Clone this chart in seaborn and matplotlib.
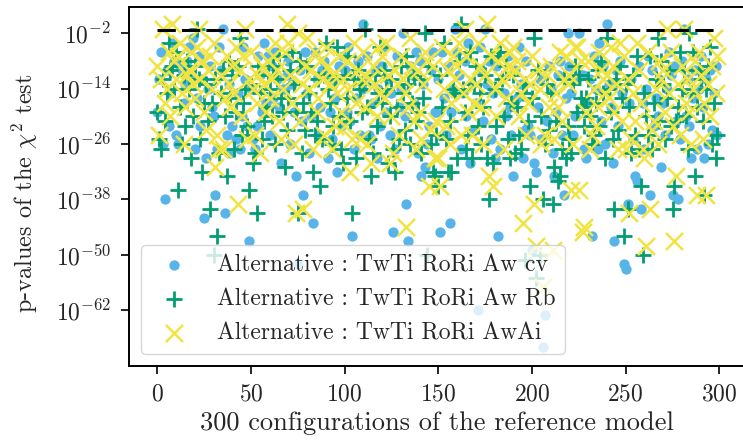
import numpy as np
import seaborn as sns
import matplotlib.pyplot as plt
from matplotlib.ticker import FixedLocator, NullLocator

# log10 of the chi2 p-values (one value per configuration)
log_p_cv = [
    -19, -12, -6, -26, -38, -10, -22, -15, -4, -8,
    -24, -26, -9, -10, -17, -13, -8, -5, -11, -3,
    -27, -16, -7, -22, -12, -42, -29, -14, -9, -18,
    -20, -37, -27, -5, -10, -1, -41, -24, -13, -28,
    -22, -9, -25, -15, -27, -20, -5, -12, -22, -47,
    -14, -25, -27, -22, -7, -11, -19, -4, -17, -7,
    -24, -9, -16, -6, -12, -18, -30, -14, -14, -11,
    -8, -26, -13, -19, -33, -52, -10, -21, -37, -6,
    -15, -28, -20, -43, -6, -12, -24, -18, -10, -8,
    -11, -29, -19, -25, -13, -16, -32, -9, -22, -7,
    -10, -19, -5, -21, -46, -27, -16, -8, -24, -14,
    0, -12, -7, -24, -25, -17, -10, -29, -14, -22,
    -9, -5, -19, -12, -24, -15, -45, -27, -7, -18,
    -14, -2, -20, -39, -47, -9, -11, -17, -6, -28,
    -8, -33, -13, -31, -26, -22, -10, -6, -19, -19,
    -12, -45, -6, -16, -24, -9, -43, -19, -14, -1,
    -6, -11, -27, -15, -8, -20, -4, -30, -13, -23,
    -17, -62, -5, -10, -21, -1, -13, -8, -25, -15,
    -29, -9, -46, -27, -12, -15, -20, -7, -18, -24,
    -33, -10, -16, -5, -13, -29, -23, -8, -22, -24,
    -49, -30, -32, -18, -12, -25, -70, -63, -21, -9,
    -14, -28, -33, -19, -11, -8, -24, -37, -16, -2,
    -9, -15, -24, -20, -12, -2, -11, -11, -27, -29,
    -17, -12, -46, -7, -14, -27, -4, -21, -9, -26,
    0, -13, -18, -30, -47, -10, -22, -8, -15, -52,
    -53, -39, -17, -12, -25, -33, -34, -9, -40, -17,
    -27, -14, -7, -37, -10, -22, -16, -20, -12, -31,
    -17, -24, -14, -6, -11, -37, -9, -21, -38, -25,
    -8, -1, -20, -12, -22, -29, -16, -10, -27, -14,
    -7, -18, -29, -12, -26, -10, -23, -15, -9, -24,
]

log_p_rb = [
    -19, -25, -27, -12, -21, -15, -4, -10, -9, -14,
    -6, -36, -18, -26, -11, -22, -8, -14, -29, -20,
    -9, -1, -12, -25, -32, -17, -13, -21, -40, -17,
    -50, -12, -46, -28, -15, -10, -20, -33, -8, -16,
    -11, -27, -19, -9, -3, -24, -17, -14, -22, -36,
    -13, -30, -28, -41, -9, -15, -25, -21, -18, -11,
    -14, -20, -9, -26, -12, -7, -16, -19, -31, -23,
    -16, -10, -6, -13, -19, -41, -8, -28, -17, -23,
    -9, -15, -19, -32, -24, -21, -12, -35, -25, -11,
    -4, -14, -17, -26, -22, -12, -5, -20, -27, -30,
    -11, -16, -7, -21, -41, -12, -29, -10, -14, -19,
    -13, -1, -18, -25, -33, -28, -11, -22, -15, -5,
    -17, -10, -14, -30, -20, -12, -27, -32, -18, -25,
    -9, -15, -23, -7, -13, -26, -17, -11, -21, -19,
    -12, -28, -16, -2, -50, -9, -26, -32, -33, -24,
    -35, -11, -18, -4, -25, -32, -21, -32, -14, -15,
    -29, -8, 0, -14, -19, -27, -24, -6, -29, -13,
    -9, -22, -15, -26, -18, -11, -29, -38, -7, -30,
    -14, -22, -6, -6, -12, -20, -9, -25, -29, -17,
    -11, -28, -18, -24, -27, -15, -51, -13, -21, -35,
    -16, -3, -55, -10, -50, -20, -38, -26, -13, -23,
    -15, -39, -31, -21, -34, -33, -27, -12, -29, -22,
    -25, -28, -13, -9, -19, -11, -16, -18, -22, -16,
    -12, -20, -26, -24, -17, -10, -22, -8, -15, -29,
    -3, -14, -19, -25, -40, -12, -23, -9, -16, -46,
    -13, -40, -18, -28, -11, -24, -7, -27, -35, -50,
    -15, -20, -24, -7, -27, -17, -12, -3, -21, -8,
    -13, -25, -16, -10, -22, -40, -35, -21, -18, -6,
    -14, -10, -20, -27, -2, -15, -6, -33, -18, -10,
    -12, -21, -37, -14, -9, -5, -26, -17, -29, -24,
]

log_p_ai = [
    -9, -24, -12, -1, -17, -14, -6, -20, 0, -8,
    -12, -7, -4, -15, -26, -18, -11, -10, -6, -13,
    -16, -5, -1, -12, -8, -19, -23, -10, -7, -14,
    -4, -31, -24, -27, -11, -27, -16, -7, -13, -18,
    -9, -15, -5, -39, -10, -20, -7, -1, -25, -12,
    -6, -14, -24, -17, -11, -28, -9, -13, -19, -8,
    -16, -12, -7, -4, -10, -21, -25, -14, -6, 0,
    -4, -11, -17, -26, -41, -2, -21, -13, -40, -9,
    -3, -14, -10, -27, -6, -19, -16, -8, -12, -24,
    -5, -9, -13, -27, -11, -22, -15, -7, -19, -12,
    -22, -8, -14, -32, -25, -4, -17, -10, -25, -12,
    -6, -18, -26, -12, -30, -9, -13, -20, -5, -15,
    -7, -16, -4, -11, -30, -20, -28, -10, -13, -24,
    -7, -12, -15, -44, -18, -3, -9, -21, -27, -10,
    -19, -25, -13, -6, -8, -35, -23, -9, -29, -21,
    -29, -35, -5, -14, -22, -10, -26, -17, -7, -12,
    -9, -4, -24, -15, -1, -7, -19, -12, -24, -17,
    -13, -4, -9, -18, -26, -11, 0, -33, -7, -35,
    -14, -20, -8, -4, -12, -27, -16, -9, -6, -11,
    -5, -10, -8, -20, -15, -43, -12, -24, -17, -13,
    -7, -39, -48, -10, -14, -26, -57, -24, -11, -18,
    -9, -49, -25, -15, -18, -6, -21, -12, -7, -13,
    -11, -36, -26, -5, -5, -36, -8, -45, -44, -19,
    -8, -27, -24, -14, -22, -18, -6, -10, -12, -15,
    -11, -16, -5, -9, -19, -13, -27, -4, -21, -7,
    -27, -12, -41, -25, -15, -21, -4, -10, -17, -27,
    -29, -48, -6, -40, -23, -21, -14, -26, -8, -12,
    -10, -19, -1, -15, -6, -22, -47, -33, -13, -24,
    -9, -1, -17, -12, -19, -26, -14, -8, -37, -6,
    -11, -25, -17, -37, -13, -20, -9, -3, -15, -7,
]

labels = [
    "Alternative : TwTi RoRi Aw cv",
    "Alternative : TwTi RoRi Aw Rb",
    "Alternative : TwTi RoRi AwAi",
]
colors = ["#56B4E9", "#009E73", "#F0E442"]
threshold = 0.05
ytick_exp = [-62, -50, -38, -26, -14, -2]

sns.set_theme(style="ticks")
plt.rcParams['font.family'] = ['cmr10']
plt.rcParams['mathtext.fontset'] = 'cm'
plt.rcParams['axes.formatter.use_mathtext'] = True
plt.rcParams['axes.unicode_minus'] = False

fig = plt.figure(figsize=(7.43, 4.43), dpi=100)
ax = fig.add_axes([129.3 / 743, 1 - 365.7 / 443, (745.5 - 129.3) / 743, (365.7 - 6.7) / 443])
ax.set_yscale('log')

idx = np.arange(len(log_p_cv))
sns.scatterplot(x=idx, y=10.0 ** np.array(log_p_cv, dtype=float), marker='o',
                color=colors[0], s=55, linewidth=0, label=labels[0], ax=ax, zorder=2)
sns.scatterplot(x=idx, y=10.0 ** np.array(log_p_rb, dtype=float), marker='+',
                color=colors[1], s=130, linewidth=2.0, label=labels[1], ax=ax, zorder=3)
sns.scatterplot(x=idx, y=10.0 ** np.array(log_p_ai, dtype=float), marker='x',
                color=colors[2], s=150, linewidth=1.8, label=labels[2], ax=ax, zorder=4)

# significance threshold
ax.plot([0, 300], [threshold, threshold], color='black', lw=2.2, dashes=(6, 2), zorder=5)

ax.set_xlim(-14.95, 313.95)
ax.set_ylim(10.0 ** -74, 10.0 ** 3.76)
ax.yaxis.set_major_locator(FixedLocator([10.0 ** e for e in ytick_exp]))
ax.yaxis.set_minor_locator(NullLocator())
ax.set_xticks([0, 50, 100, 150, 200, 250, 300])
ax.tick_params(labelsize=17, width=1.2, length=6, pad=7, color='black')
for sp in ax.spines.values():
    sp.set_linewidth(1.4)
    sp.set_color('black')

ax.set_xlabel("300 configurations of the reference model", fontsize=19)
ax.set_ylabel(r"p-values of the $\chi^2$ test", fontsize=17.5)
ax.yaxis.set_label_coords(-0.145, 0.48)
ax.legend(loc='lower left', fontsize=17, framealpha=0.8)

fig.savefig("out.png", dpi=100)
